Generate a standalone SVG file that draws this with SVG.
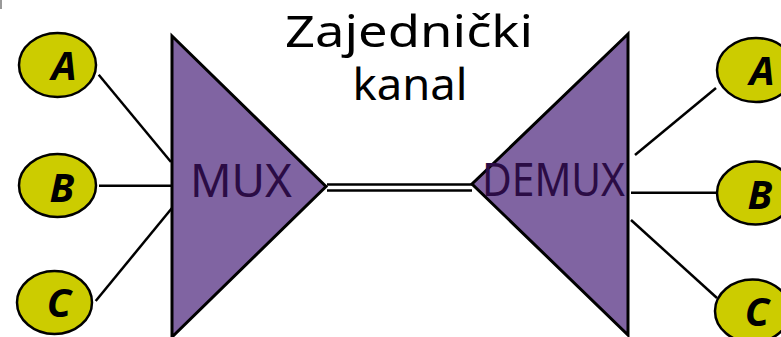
<svg xmlns="http://www.w3.org/2000/svg" width="781" height="337" viewBox="0 0 781 337">
<style>
.node ellipse{fill:#cccc00;stroke:#000;stroke-width:2.5}
.lbl{font-family:"Comic Sans MS","Noto Sans",sans-serif;font-size:40px;font-style:italic;font-weight:bold;fill:#000;text-anchor:middle}
.tri{fill:#8064a2;stroke:#000;stroke-width:3;stroke-linejoin:miter}
.mtxt{font-family:"Comic Sans MS","Noto Sans",sans-serif;font-size:45px;fill:#2b0c45;text-anchor:middle}
.title{font-family:"Comic Sans MS","Noto Sans",sans-serif;font-size:44px;fill:#000;text-anchor:middle}
.conn line{stroke:#000;stroke-width:2.5}
</style>
<rect x="0" y="0" width="2" height="9" fill="#999"/>
<g id="title">
<text class="title" x="409" y="47" textLength="248" lengthAdjust="spacingAndGlyphs">Zajednički</text>
<text class="title" x="410" y="100" textLength="115" lengthAdjust="spacingAndGlyphs">kanal</text>
</g>
<g class="conn" id="connectors">
<line x1="98.7" y1="74.7" x2="171" y2="162"/>
<line x1="99" y1="185.7" x2="172" y2="185.7"/>
<line x1="95.7" y1="301" x2="172" y2="208"/>
<line x1="327" y1="184.5" x2="472" y2="184.5"/>
<line x1="327" y1="190.5" x2="472" y2="190.5"/>
<line x1="635" y1="155" x2="716" y2="88"/>
<line x1="631" y1="192.7" x2="717" y2="192.7"/>
<line x1="631" y1="220" x2="717" y2="298"/>
</g>
<g id="mux">
<polygon class="tri" points="172,36 326,186.5 172,337"/>
<text class="mtxt" x="241" y="197" textLength="102" lengthAdjust="spacingAndGlyphs">MUX</text>
</g>
<g id="demux">
<polygon class="tri" points="628,34 472,184 628,335"/>
<text class="mtxt" x="553.5" y="196" textLength="143" lengthAdjust="spacingAndGlyphs">DEMUX</text>
</g>
<g class="node" id="inA"><ellipse cx="57.5" cy="65" rx="38.5" ry="32"/><text class="lbl" x="64" y="80">A</text></g>
<g class="node" id="inB"><ellipse cx="57.5" cy="185.5" rx="38.5" ry="31.5"/><text class="lbl" x="62" y="202">B</text></g>
<g class="node" id="inC"><ellipse cx="54.5" cy="302.5" rx="37.5" ry="31.5"/><text class="lbl" x="59" y="317">C</text></g>
<g class="node" id="outA"><ellipse cx="756" cy="70" rx="39" ry="32"/><text class="lbl" x="762" y="85">A</text></g>
<g class="node" id="outB"><ellipse cx="755.5" cy="193" rx="38.5" ry="31.5"/><text class="lbl" x="760" y="209">B</text></g>
<g class="node" id="outC"><ellipse cx="752.5" cy="311" rx="37.5" ry="31.5"/><text class="lbl" x="757" y="326">C</text></g>
</svg>
